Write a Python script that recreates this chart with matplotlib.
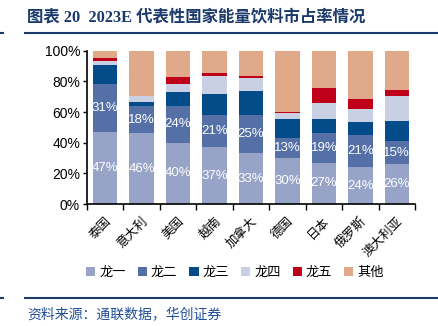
import numpy as np
import matplotlib
matplotlib.use("Agg")
import matplotlib.pyplot as plt
from matplotlib.patches import Patch
from matplotlib.lines import Line2D

plt.rcParams['font.family'] = ['Liberation Sans', 'Noto Sans CJK SC']

countries = ["泰国", "意大利", "美国", "越南", "加拿大", "德国", "日本", "俄罗斯", "澳大利亚"]
series_names = ["龙一", "龙二", "龙三", "龙四", "龙五", "其他"]

long1 = [47, 46, 40, 37, 33, 30, 27, 24, 26]
long2 = [31, 18, 24, 21, 25, 13, 19, 21, 15]
long3 = [12.7, 2.7, 8.8, 13.5, 15.5, 12.2, 9.2, 8.5, 13.1]
long4 = [2.6, 4.0, 5.2, 12.2, 8.5, 3.9, 10.5, 8.7, 16.6]
long5 = [2.1, 0.0, 4.6, 1.7, 1.7, 1.1, 9.7, 6.5, 3.6]
others = [4.6, 29.3, 17.4, 14.6, 16.3, 39.8, 24.6, 31.3, 25.7]

colors = ["#97A4C8", "#5470A7", "#034C89", "#CAD0E4", "#BF0019", "#E0AA8A"]

W, H = 438, 326
fig = plt.figure(figsize=(W / 100, H / 100), dpi=100)
ax = fig.add_axes([87 / W, 1 - 204 / H, (415 - 87) / W, (204 - 50.7) / H])

data = [long1, long2, long3, long4, long5, others]
x = np.arange(len(countries))
bottom = np.zeros(len(countries))
for vals, c, name in zip(data, colors, series_names):
    v = np.array(vals) / 100.0
    ax.bar(x, v, width=0.67, bottom=bottom, color=c, label=name, linewidth=0)
    if name in ("龙一", "龙二"):
        for xi, b, vi, raw in zip(x, bottom, v, vals):
            ax.text(xi, b + vi / 2, f"{raw}%", ha="center", va="center",
                    color="white", fontsize=9.5)
    bottom += v

ax.set_xlim(-0.5, len(countries) - 0.5)
ax.set_ylim(0, 1.0)
ax.set_yticks(np.arange(0, 1.01, 0.2))
ax.set_yticklabels([f"{int(round(t * 100))}%" for t in np.arange(0, 1.01, 0.2)], fontsize=10)
ax.tick_params(axis="y", length=3, width=1, pad=2)

ax.set_xticks(x)
ax.set_xticklabels(countries, rotation=45, ha="right", rotation_mode="anchor", fontsize=9)
ax.tick_params(axis="x", which="major", length=0, pad=8)
ax.set_xticks(np.arange(-0.5, len(countries), 1), minor=True)
ax.tick_params(axis="x", which="minor", length=4, width=1, direction="out")

for s in ["top", "right"]:
    ax.spines[s].set_visible(False)
for s in ["left", "bottom"]:
    ax.spines[s].set_linewidth(1.2)

handles = [Patch(facecolor=c, edgecolor="none") for c in colors]
fig.legend(handles, series_names, loc="center", bbox_to_anchor=(235 / W, 1 - 273 / H),
           ncol=6, frameon=False, fontsize=9.5, handlelength=0.7, handleheight=0.7,
           handletextpad=0.3, columnspacing=0.9)

# title and frame lines
navy = "#1B3A6B"
fig.text(27 / W, 1 - 17 / H, "图表 20  2023E 代表性国家能量饮料市占率情况",
         fontsize=11.8, fontweight="bold", color=navy, va="center",
         family=['Liberation Serif', 'Noto Sans CJK SC'])
fig.add_artist(Line2D([25 / W, 1], [1 - 32.5 / H] * 2, color=navy, lw=1.5))
fig.add_artist(Line2D([0, 3 / W], [1 - 32.5 / H] * 2, color=navy, lw=1.5))
fig.add_artist(Line2D([25 / W, 1], [1 - 297.7 / H] * 2, color=navy, lw=1.5))
fig.add_artist(Line2D([0, 3 / W], [1 - 297.7 / H] * 2, color=navy, lw=1.5))
fig.text(27 / W, 1 - 314 / H, "资料来源：通联数据，华创证券", fontsize=10,
         color="#1F4E9A", style="italic", va="center")

fig.savefig("out.png", dpi=100)
